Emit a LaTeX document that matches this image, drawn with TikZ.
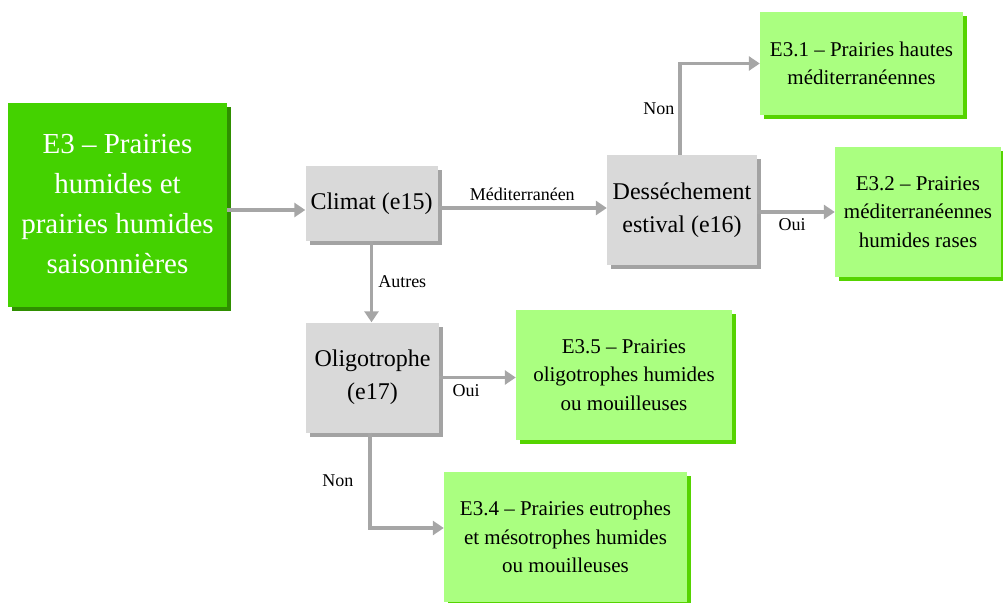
\documentclass[tikz,border=0pt]{standalone}
\usepackage{fontspec}
\setmainfont{Liberation Serif}
\usetikzlibrary{arrows.meta,shadows}
\definecolor{mainfill}{HTML}{44D200}
\definecolor{mainshadow}{HTML}{2F8F00}
\definecolor{leaffill}{HTML}{AAFF80}
\definecolor{leafshadow}{HTML}{55D400}
\definecolor{qfill}{HTML}{D9D9D9}
\definecolor{qshadow}{HTML}{A3A3A3}
\definecolor{linkgray}{HTML}{A6A6A6}
\tikzset{
  box/.style={rectangle, inner sep=2pt, align=center, text=black},
  mainbox/.style={box, fill=mainfill, text=white,
    drop shadow={shadow xshift=4pt, shadow yshift=-4pt, opacity=1, fill=mainshadow},
    font=\fontsize{29}{40}\selectfont},
  leafbox/.style={box, fill=leaffill,
    drop shadow={shadow xshift=4pt, shadow yshift=-4pt, opacity=1, fill=leafshadow},
    font=\fontsize{21}{28.5}\selectfont},
  qbox/.style={box, fill=qfill,
    drop shadow={shadow xshift=4pt, shadow yshift=-4pt, opacity=1, fill=qshadow},
    font=\fontsize{24}{33}\selectfont},
  arr/.style={draw=linkgray, line width=3.5pt, -{Triangle[length=11pt,width=14pt]}, color=linkgray},
  lbl/.style={font=\fontsize{18}{20}\selectfont, text=black, inner sep=0pt}
}
\begin{document}
\begin{tikzpicture}[x=1pt,y=-1pt]
\useasboundingbox (0,0) rectangle (1003,602);

% question and habitat boxes
\node[mainbox, minimum width=219pt, minimum height=204pt] (e3) at (117.5,204.5)
  {E3 -- Prairies\\humides et\\prairies humides\\saisonnières};
\node[qbox, minimum width=132pt, minimum height=75pt] (climat) at (371.5,203.5) {Climat (e15)};
\node[qbox, minimum width=150pt, minimum height=110pt] (dess) at (682,210) {Desséchement\\estival (e16)};
\node[qbox, minimum width=133pt, minimum height=110pt] (oligo) at (372.5,377.5) {Oligotrophe\\(e17)};
\node[leafbox, minimum width=203pt, minimum height=103pt] (e31) at (861.5,63.5)
  {E3.1 -- Prairies hautes\\méditerranéennes};
\node[leafbox, minimum width=166pt, minimum height=130pt] (e32) at (918,212)
  {E3.2 -- Prairies\\méditerranéennes\\humides rases};
\node[leafbox, minimum width=216pt, minimum height=130pt] (e35) at (624,375)
  {E3.5 -- Prairies\\oligotrophes humides\\ou mouilleuses};
\node[leafbox, minimum width=243pt, minimum height=130pt] (e34) at (565.5,537)
  {E3.4 -- Prairies eutrophes\\et mésotrophes humides\\ou mouilleuses};

% connectors
\draw[arr] ([yshift=-5.5pt]e3.east) -- ([yshift=-5.5pt]e3.east -| climat.west);
\draw[arr] ([yshift=-4.5pt]climat.east) -- ([yshift=-4.5pt]climat.east -| dess.west)
  node[lbl, midway, above=6pt] {Méditerranéen};
\draw[arr] (climat.south) -- (climat.south |- oligo.north)
  node[lbl, midway, right=5pt] {Autres};
\draw[arr] ([xshift=-2pt]dess.north) |- (e31.west)
  node[lbl, pos=0.25, left=4pt] {Non};
\draw[arr] ([yshift=-2pt]dess.east) -- ([yshift=-2pt]dess.east -| e32.west)
  node[lbl, pos=0.45, below=5pt] {Oui};
\draw[arr] (oligo.east) -- (oligo.east -| e35.west)
  node[lbl, pos=0.35, below=5pt] {Oui};
\draw[arr] ([xshift=-2.5pt]oligo.south) |- ([yshift=9pt]e34.west)
  node[lbl, pos=0.25, left=15pt] {Non};
\end{tikzpicture}
\end{document}
